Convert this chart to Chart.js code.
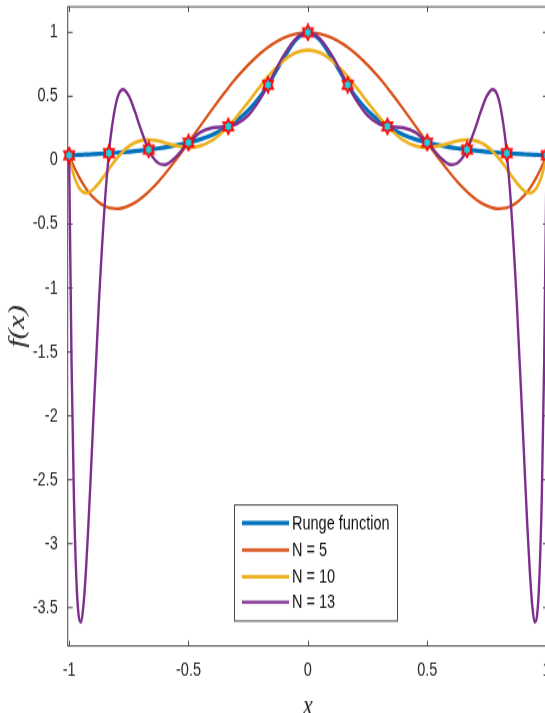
<!DOCTYPE html>
<html>
<head>
<meta charset="utf-8">
<script src="https://cdn.jsdelivr.net/npm/chart.js@4.4.1/dist/chart.umd.min.js"></script>
<style>
html,body{margin:0;padding:0;background:#fff;overflow:hidden;}
#wrap{width:556px;height:713px;overflow:hidden;}
#c{display:block;width:556px;height:713px;}
</style>
</head>
<body>
<div id="wrap"><canvas id="c" width="556" height="536" style="width:556px;height:713px"></canvas></div>
<script>
// ---- data ----
const xs = [-1, -0.99, -0.98, -0.97, -0.96, -0.95, -0.94, -0.93, -0.92, -0.91, -0.9, -0.875, -0.85, -0.8333, -0.825, -0.8, -0.775, -0.75, -0.725, -0.7, -0.675, -0.6667, -0.65, -0.625, -0.6, -0.55, -0.5, -0.45, -0.4, -0.35, -0.3333, -0.3, -0.25, -0.2, -0.1667, -0.15, -0.1, -0.05,
  0,
  0.05, 0.1, 0.15, 0.1667, 0.2, 0.25, 0.3, 0.3333, 0.35, 0.4, 0.45, 0.5, 0.55, 0.6, 0.625, 0.65, 0.6667, 0.675, 0.7, 0.725, 0.75, 0.775, 0.8, 0.825, 0.8333, 0.85, 0.875, 0.9, 0.91, 0.92, 0.93, 0.94, 0.95, 0.96, 0.97, 0.98, 0.99, 1];

const runge = [0.0385, 0.0392, 0.04, 0.0408, 0.0416, 0.0424, 0.0433, 0.0442, 0.0451, 0.0461, 0.0471, 0.0497, 0.0525, 0.0545, 0.0555, 0.0588, 0.0624, 0.0664, 0.0707, 0.0755, 0.0807, 0.0826, 0.0865, 0.0929, 0.1, 0.1168, 0.1379, 0.1649, 0.2, 0.2462, 0.2647, 0.3077, 0.3902, 0.5, 0.5902, 0.64, 0.8, 0.9412,
  1,
  0.9412, 0.8, 0.64, 0.5902, 0.5, 0.3902, 0.3077, 0.2647, 0.2462, 0.2, 0.1649, 0.1379, 0.1168, 0.1, 0.0929, 0.0865, 0.0826, 0.0807, 0.0755, 0.0707, 0.0664, 0.0624, 0.0588, 0.0555, 0.0545, 0.0525, 0.0497, 0.0471, 0.0461, 0.0451, 0.0442, 0.0433, 0.0424, 0.0416, 0.0408, 0.04, 0.0392, 0.0385];

const n5 = [0.0385, -0.0071, -0.0496, -0.0891, -0.1257, -0.1595, -0.1906, -0.2191, -0.2449, -0.2682, -0.2891, -0.3312, -0.3595, -0.3713, -0.3752, -0.3793, -0.3729, -0.3568, -0.3321, -0.2997, -0.2605, -0.246, -0.2152, -0.1648, -0.1101, 0.0096, 0.1379, 0.2698, 0.4005, 0.5258, 0.5657, 0.6419, 0.7456, 0.8342, 0.8837, 0.9054, 0.9576, 0.9893,
  1,
  0.9893, 0.9576, 0.9054, 0.8837, 0.8342, 0.7456, 0.6419, 0.5657, 0.5258, 0.4005, 0.2698, 0.1379, 0.0096, -0.1101, -0.1648, -0.2152, -0.246, -0.2605, -0.2997, -0.3321, -0.3568, -0.3729, -0.3793, -0.3752, -0.3713, -0.3595, -0.3312, -0.2891, -0.2682, -0.2449, -0.2191, -0.1906, -0.1595, -0.1257, -0.0891, -0.0496, -0.0071, 0.0385];

const n10 = [0.0385, -0.0502, -0.1197, -0.1725, -0.2106, -0.236, -0.2506, -0.2558, -0.2533, -0.2443, -0.23, -0.1781, -0.1138, -0.0692, -0.0472, 0.0147, 0.0673, 0.1084, 0.1371, 0.154, 0.1603, 0.1604, 0.1581, 0.1497, 0.1377, 0.1122, 0.0995, 0.1122, 0.1566, 0.233, 0.2647, 0.3356, 0.4546, 0.5774, 0.6548, 0.6907, 0.782, 0.8411,
  0.8615,
  0.8411, 0.782, 0.6907, 0.6548, 0.5774, 0.4546, 0.3356, 0.2647, 0.233, 0.1566, 0.1122, 0.0995, 0.1122, 0.1377, 0.1497, 0.1581, 0.1604, 0.1603, 0.154, 0.1371, 0.1084, 0.0673, 0.0147, -0.0472, -0.0692, -0.1138, -0.1781, -0.23, -0.2443, -0.2533, -0.2558, -0.2506, -0.236, -0.2106, -0.1725, -0.1197, -0.0502, 0.0385];

const n13 = [0.0385, -1.5691, -2.6308, -3.2631, -3.5637, -3.6143, -3.4823, -3.223, -2.881, -2.4919, -2.0834, -1.1041, -0.3221, 0.0545, 0.1989, 0.4733, 0.5533, 0.503, 0.3834, 0.2434, 0.1176, 0.0826, 0.0258, -0.0244, -0.0346, 0.0307, 0.1379, 0.2197, 0.2541, 0.2614, 0.2647, 0.2819, 0.3505, 0.4789, 0.5902, 0.6497, 0.8231, 0.9523,
  1,
  0.9523, 0.8231, 0.6497, 0.5902, 0.4789, 0.3505, 0.2819, 0.2647, 0.2614, 0.2541, 0.2197, 0.1379, 0.0307, -0.0346, -0.0244, 0.0258, 0.0826, 0.1176, 0.2434, 0.3834, 0.503, 0.5533, 0.4733, 0.1989, 0.0545, -0.3221, -1.1041, -2.0834, -2.4919, -2.881, -3.223, -3.4823, -3.6143, -3.5637, -3.2631, -2.6308, -1.5691, 0.0385];

const nodeX = [-1, -0.8333, -0.6667, -0.5, -0.3333, -0.1667, 0, 0.1667, 0.3333, 0.5, 0.6667, 0.8333, 1];
const nodeY = [0.0385, 0.0545, 0.0826, 0.1379, 0.2647, 0.5902, 1, 0.5902, 0.2647, 0.1379, 0.0826, 0.0545, 0.0385];

const seriesNames = ['Runge function', 'N = 5', 'N = 10', 'N = 13'];
const xTicks = [-1, -0.5, 0, 0.5, 1];
const yTicks = [-3.5, -3, -2.5, -2, -1.5, -1, -0.5, 0, 0.5, 1];

// ---- styling ----
const colors = ['#0072BD', '#D95319', '#EDB120', '#7E2F8E'];
const widths = [3.2, 2.3, 2.6, 2.4];
const FONT = "'Liberation Sans', Arial, Helvetica, sans-serif";
const SERIF = "'Liberation Serif', 'Times New Roman', serif";
const TXT = '#262626';
const AXC = '#4a4a4a';

function pts(ys){ return xs.map((x,i)=>({x:x, y:ys[i]})); }

function hexagram(){
  const c = document.createElement('canvas');
  c.width = 14; c.height = 14;
  const g = c.getContext('2d');
  g.translate(7, 7);
  g.beginPath();
  for (let i = 0; i < 12; i++){
    const a = -Math.PI/2 + i*Math.PI/6;
    const r = (i % 2 === 0) ? 5.8 : 3.35;
    const px = r*Math.cos(a), py = r*Math.sin(a);
    if (i === 0) g.moveTo(px, py); else g.lineTo(px, py);
  }
  g.closePath();
  g.fillStyle = '#19D3E6';
  g.fill();
  g.lineWidth = 1.7;
  g.strokeStyle = '#FF0000';
  g.stroke();
  return c;
}

const frame = {
  id: 'frame',
  beforeDatasetsDraw(chart){
    const {ctx, chartArea:a, scales} = chart;
    ctx.save();
    ctx.strokeStyle = AXC;
    ctx.lineWidth = 1;
    ctx.strokeRect(a.left, a.top, a.right - a.left, a.bottom - a.top);
    ctx.beginPath();
    xTicks.forEach(v => {
      const px = Math.round(scales.x.getPixelForValue(v)) + 0.5;
      ctx.moveTo(px, a.bottom); ctx.lineTo(px, a.bottom - 4);
      ctx.moveTo(px, a.top); ctx.lineTo(px, a.top + 4);
    });
    yTicks.forEach(v => {
      const py = scales.y.getPixelForValue(v);
      ctx.moveTo(a.left, py); ctx.lineTo(a.left + 5, py);
      ctx.moveTo(a.right, py); ctx.lineTo(a.right - 5, py);
    });
    ctx.stroke();
    ctx.restore();
  },
  afterDraw(chart){
    const ctx = chart.ctx;
    ctx.save();
    const bx = 234, by = 379.6, bw = 163, bh = 87.3;
    ctx.fillStyle = '#fff';
    ctx.fillRect(bx, by, bw, bh);
    ctx.strokeStyle = AXC;
    ctx.lineWidth = 1;
    ctx.strokeRect(bx + 0.5, by, bw, bh);
    const rows = [393.2, 413.5, 433.6, 452.6];
    ctx.font = '14.5px ' + FONT;
    ctx.textBaseline = 'middle';
    ctx.textAlign = 'left';
    seriesNames.forEach((name, i) => {
      ctx.strokeStyle = colors[i];
      ctx.lineWidth = widths[i];
      ctx.beginPath();
      ctx.moveTo(242, rows[i]); ctx.lineTo(289, rows[i]);
      ctx.stroke();
      ctx.fillStyle = '#111';
      ctx.fillText(name, 292, rows[i] + 0.5);
    });
    ctx.restore();
  }
};

const star = hexagram();

const lineDs = (i, ys, order) => ({
  label: seriesNames[i],
  data: pts(ys),
  borderColor: colors[i],
  backgroundColor: colors[i],
  borderWidth: widths[i],
  pointRadius: 0,
  fill: false,
  cubicInterpolationMode: 'monotone',
  order: order
});

new Chart(document.getElementById('c'), {
  type: 'line',
  data: {
    datasets: [
      lineDs(0, runge, 4),
      lineDs(1, n5, 3),
      lineDs(2, n10, 2),
      lineDs(3, n13, 1),
      {
        label: 'nodes',
        data: nodeX.map((x,i)=>({x:x, y:nodeY[i]})),
        showLine: false,
        pointStyle: star,
        pointRadius: 7,
        clip: false,
        order: 0
      }
    ]
  },
  options: {
    responsive: false,
    animation: false,
    devicePixelRatio: 1,
    layout: { autoPadding: false, padding: { top: 5.1, right: 8, left: 0, bottom: 0 } },
    plugins: { legend: { display: false }, tooltip: { enabled: false } },
    scales: {
      x: {
        type: 'linear',
        min: -1.006, max: 1.006,
        grid: { display: false, drawTicks: false },
        border: { display: false },
        afterBuildTicks: s => { s.ticks = xTicks.map(v => ({value: v})); },
        afterFit: s => { s.height = 50.4; s.paddingLeft = 0; s.paddingRight = 0; },
        ticks: { color: TXT, font: { size: 14.5, family: FONT }, padding: 9.5, maxRotation: 0,
                 callback: v => String(v) },
        title: { display: true, text: 'x', color: TXT,
                 font: { family: SERIF, style: 'italic', size: 22, lineHeight: 1 },
                 padding: { top: 0, bottom: -6 } }
      },
      y: {
        min: -3.8, max: 1.2,
        grid: { display: false, drawTicks: false },
        border: { display: false },
        afterBuildTicks: s => { s.ticks = yTicks.map(v => ({value: v})); },
        afterFit: s => { s.width = 67.7; s.paddingTop = 0; s.paddingBottom = 0; },
        ticks: { color: TXT, font: { size: 14.5, family: FONT, lineHeight: 0.7 }, padding: 10,
                 callback: v => String(v) },
        title: { display: true, text: 'f(x)', color: TXT,
                 font: { family: SERIF, style: 'italic', size: 23, lineHeight: 1 },
                 padding: { top: 6, bottom: 0 } }
      }
    }
  },
  plugins: [frame]
});
</script>
</body>
</html>
